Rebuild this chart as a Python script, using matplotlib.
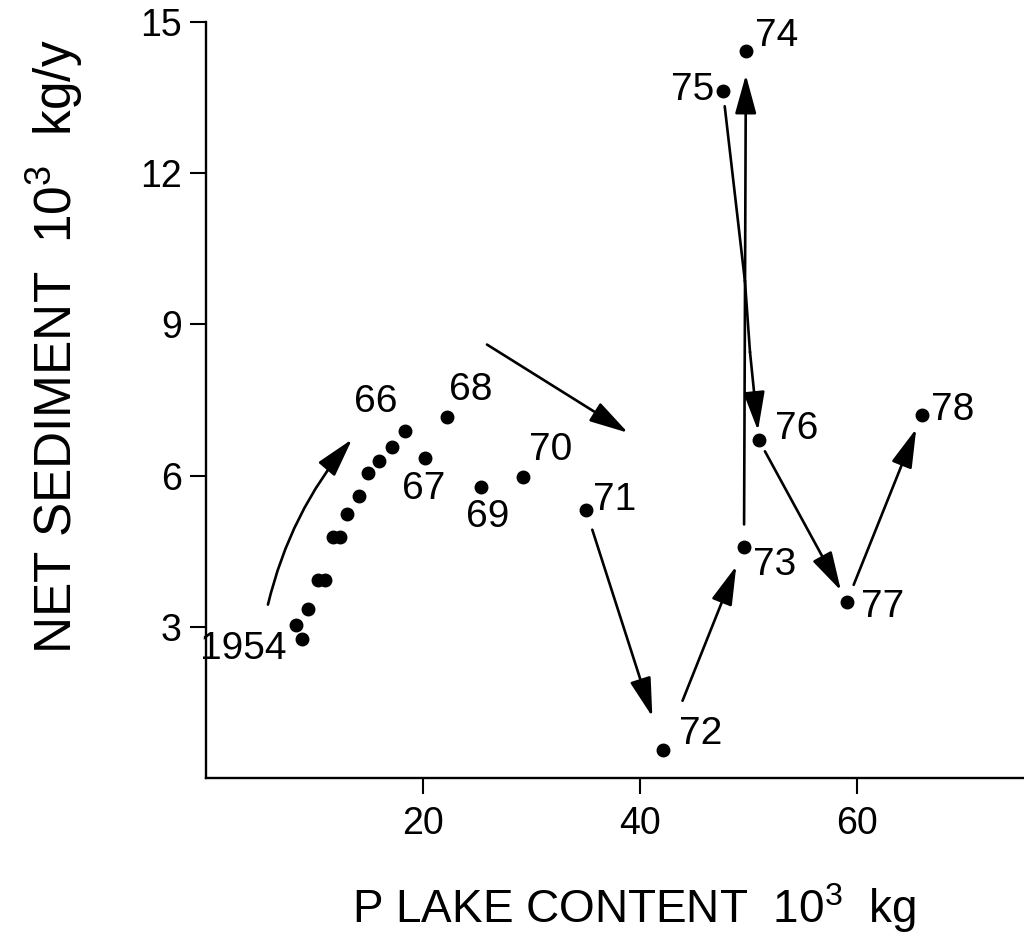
import matplotlib
matplotlib.use("Agg")
import matplotlib.pyplot as plt

plt.rcParams['font.family'] = ['Liberation Sans', 'DejaVu Sans']
plt.rcParams['mathtext.fontset'] = 'custom'
plt.rcParams['mathtext.rm'] = 'Liberation Sans'

# Yearly phosphorus lake content (10^3 kg) vs. net sedimentation (10^3 kg/y)
years = list(range(1954, 1979))
p_content = [8.85, 8.29, 9.40, 10.32, 10.97, 11.71, 12.35, 13.00, 14.10, 14.93,
             15.94, 17.14, 18.34, 20.18, 22.21, 25.35, 29.22, 35.02, 42.12, 49.59,
             49.77, 47.65, 50.97, 59.08, 65.99]
net_sediment = [2.76, 3.04, 3.36, 3.93, 3.93, 4.79, 4.79, 5.23, 5.60, 6.06,
                6.28, 6.56, 6.89, 6.34, 7.17, 5.78, 5.98, 5.32, 0.56, 4.59,
                14.42, 13.63, 6.70, 3.50, 7.21]

# Year labels: text and offset from the point (points)
year_labels = {1954: ("1954", (-42, -7)), 1966: ("66", (-21, 21)), 1967: ("67", (-1, -22)),
               1968: ("68", (17, 19)), 1969: ("69", (5, -22)), 1970: ("70", (20, 19)),
               1971: ("71", (21, 7)), 1972: ("72", (27, 11)), 1973: ("73", (22, -13)),
               1974: ("74", (22, 11)), 1975: ("75", (-22, 1)), 1976: ("76", (27, 8)),
               1977: ("77", (26, -4)), 1978: ("78", (22, 3))}

# Arrows linking consecutive years: (from, to, shrink at start, shrink at end)
year_arrows = [(1971, 1972, 15, 25), (1972, 1973, 38, 15), (1973, 1974, 16, 17),
               (1976, 1977, 9, 9), (1977, 1978, 13, 11)]

fig = plt.figure(figsize=(10.24, 9.35), dpi=100)
ax = fig.add_axes([206 / 1024, 157 / 935, 818 / 1024, 756 / 935])
ax.set_xlim(0, 75.4)
ax.set_ylim(0, 15)

ax.plot(p_content, net_sediment, 'o', color='black', markersize=9, zorder=3)

pos = dict(zip(years, zip(p_content, net_sediment)))

for yr, (txt, off) in year_labels.items():
    ax.annotate(txt, xy=pos[yr], xytext=off, textcoords='offset points',
                ha='center', va='center', fontsize=28, color='black')

arrow_style = '-|>,head_length=1.2,head_width=0.33'
for a, b, sa, sb in year_arrows:
    ax.annotate('', xy=pos[b], xytext=pos[a],
                arrowprops=dict(arrowstyle=arrow_style, mutation_scale=20, lw=1.9,
                                color='black', shrinkA=sa, shrinkB=sb))

# 1975 -> 1976: runs down along the 1973-74 line, then branches off
kink_top = (49.68, 9.85)
kink_bottom = (50.14, 8.46)
ax.annotate('', xy=kink_top, xytext=pos[1975],
            arrowprops=dict(arrowstyle='-', lw=1.9, color='black', shrinkA=11, shrinkB=0))
ax.plot([kink_top[0], kink_bottom[0]], [kink_top[1], kink_bottom[1]], color='black', lw=1.9)
ax.annotate('', xy=pos[1976], xytext=kink_bottom,
            arrowprops=dict(arrowstyle=arrow_style, mutation_scale=20, lw=1.9,
                            color='black', shrinkA=0, shrinkB=7))

# Trend arrows
ax.annotate('', xy=(13.46, 6.72), xytext=(5.71, 3.44),
            arrowprops=dict(arrowstyle=arrow_style, mutation_scale=20, lw=1.9,
                            color='black', shrinkA=0, shrinkB=0,
                            connectionstyle='arc3,rad=-0.12'))
ax.annotate('', xy=(38.9, 6.85), xytext=(25.9, 8.6),
            arrowprops=dict(arrowstyle=arrow_style, mutation_scale=20, lw=1.9,
                            color='black', shrinkA=0, shrinkB=0))

for s in ('top', 'right'):
    ax.spines[s].set_visible(False)
for s in ('left', 'bottom'):
    ax.spines[s].set_linewidth(1.7)

ax.set_xticks([20, 40, 60])
ax.set_yticks([3, 6, 9, 12, 15])
ax.tick_params(axis='both', direction='out', length=11.5, width=1.5, labelsize=27)
ax.tick_params(axis='x', pad=9)
ax.tick_params(axis='y', pad=6)

fig.text(634 / 1024, 1 - 923 / 935, r'P LAKE CONTENT  $\mathrm{10^{3}}$  kg',
         ha='center', va='baseline', fontsize=33)
fig.text(55 / 1024, 1 - 347 / 935, r'NET SEDIMENT  $\mathrm{10^{3}}$  kg/y',
         ha='center', va='center', rotation=90, fontsize=37)

fig.savefig('out.png', dpi=100, facecolor='white')
